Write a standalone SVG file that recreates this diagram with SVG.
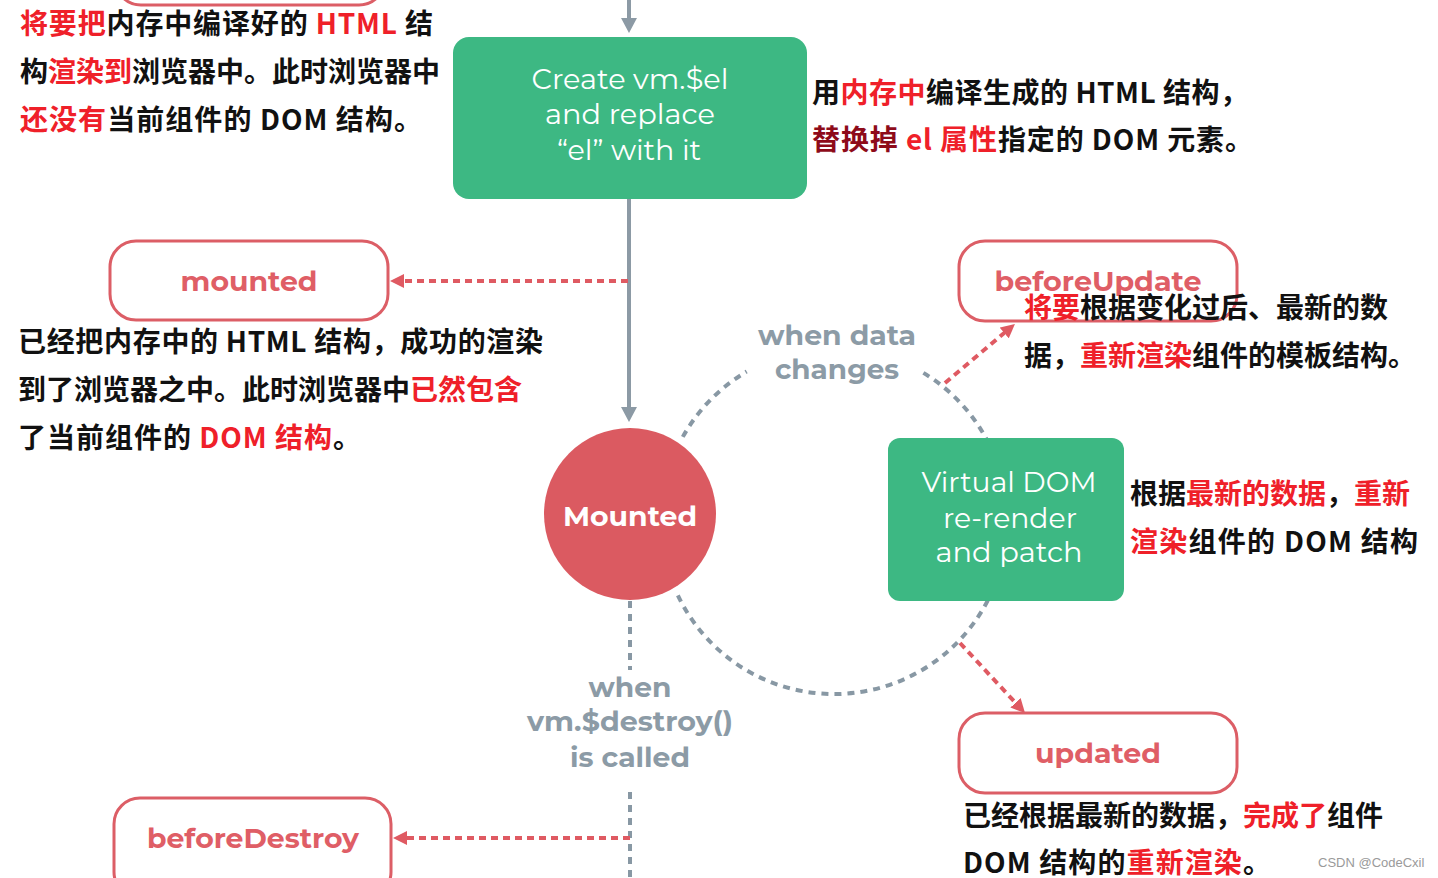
<svg xmlns="http://www.w3.org/2000/svg" width="1438" height="878" viewBox="0 0 1438 878">
<defs>
<style>
.hook{fill:#fff;stroke:#dc5e66;stroke-width:3}
.hookt{font-family:"Montserrat","Open Sans","Liberation Sans",sans-serif;font-weight:700;font-size:28px;fill:#df5e66;text-anchor:middle}
.green{fill:#3db883}
.greent{font-family:"Montserrat","Open Sans","Liberation Sans",sans-serif;font-weight:400;font-size:28px;fill:#fff;text-anchor:middle}
.gray{font-family:"Montserrat","Open Sans","Liberation Sans",sans-serif;font-weight:700;font-size:28px;fill:#8c9ba6;text-anchor:middle}
.solid{stroke:#8c9aa5;stroke-width:4;fill:none}
.gdash{stroke:#8898a4;stroke-width:4;fill:none;stroke-dasharray:7 6}
.rdash{stroke:#df5a62;stroke-width:4;fill:none;stroke-dasharray:7 5}
.cn{font-family:"Noto Sans CJK SC","Noto Sans",sans-serif;font-weight:700;font-size:28px;fill:#111}
.r{fill:#ef2029}
.dr{fill:#8e0b1a}
</style>
<marker id="ag" viewBox="0 0 16 16" refX="5" refY="8" markerWidth="16" markerHeight="16" markerUnits="userSpaceOnUse" orient="auto"><path d="M0,0 L15,8 L0,16 z" fill="#8c9aa5"/></marker>
<marker id="ar" viewBox="0 0 14 14" refX="4" refY="7" markerWidth="14" markerHeight="14" markerUnits="userSpaceOnUse" orient="auto"><path d="M0,0 L14,7 L0,14 z" fill="#df5a62"/></marker>
</defs>
<rect width="1438" height="878" fill="#fff"/>

<g id="connectors">
<line class="solid" x1="629" y1="-5" x2="629" y2="23" marker-end="url(#ag)"/>
<line class="solid" x1="629" y1="199" x2="629" y2="412" marker-end="url(#ag)"/>
<line class="rdash" x1="628" y1="281" x2="400" y2="281" marker-end="url(#ar)"/>
<path class="gdash" d="M682.8 436.9 A173 173 0 0 1 746.7 371.6"/>
<path class="gdash" d="M923.4 372.9 A173 173 0 1 1 676.1 591.6"/>
<line class="rdash" x1="945" y1="383" x2="1007.3" y2="330.4" marker-end="url(#ar)"/>
<line class="rdash" x1="960" y1="643" x2="1018.2" y2="705.7" marker-end="url(#ar)"/>
<line class="gdash" x1="630" y1="601" x2="630" y2="670"/>
<line class="gdash" x1="630" y1="792" x2="630" y2="880"/>
<line class="rdash" x1="630" y1="838" x2="403" y2="838" marker-end="url(#ar)"/>
</g>

<g id="node-top-hook">
<rect class="hook" x="115" y="-75" width="270" height="80" rx="26"/>
</g>

<g id="note-top-left">
<text class="cn" x="20" y="34" textLength="413" lengthAdjust="spacing"><tspan class="r">将要把</tspan>内存中编译好的 <tspan class="r">HTML</tspan> 结</text>
<text class="cn" x="20" y="82">构<tspan class="r">渲染到</tspan>浏览器中。此时浏览器中</text>
<text class="cn" x="20" y="130" textLength="402" lengthAdjust="spacing"><tspan class="r">还没有</tspan>当前组件的 DOM 结构。</text>
</g>

<g id="node-create">
<rect class="green" x="453" y="37" width="354" height="162" rx="16"/>
<text class="greent" x="630" y="89" textLength="197" lengthAdjust="spacingAndGlyphs">Create vm.$el</text>
<text class="greent" x="630" y="124" textLength="170" lengthAdjust="spacingAndGlyphs">and replace</text>
<text class="greent" x="629" y="160" textLength="144" lengthAdjust="spacingAndGlyphs">“el” with it</text>
</g>

<g id="note-create">
<text class="cn" x="812" y="103" textLength="436" lengthAdjust="spacing">用<tspan class="r">内存中</tspan>编译生成的 HTML 结构，</text>
<text class="cn" x="812" y="150" textLength="441" lengthAdjust="spacing"><tspan class="dr">替换掉</tspan> <tspan class="r">el 属性</tspan>指定的 DOM 元素。</text>
</g>

<g id="node-mounted-hook">
<rect class="hook" x="110" y="241" width="278" height="79" rx="26"/>
<text class="hookt" x="249" y="291" textLength="137" lengthAdjust="spacingAndGlyphs">mounted</text>
</g>

<g id="note-mounted">
<text class="cn" x="18" y="352" textLength="525" lengthAdjust="spacing">已经把内存中的 HTML 结构，成功的渲染</text>
<text class="cn" x="18" y="400">到了浏览器之中。此时浏览器中<tspan class="r">已然包含</tspan></text>
<text class="cn" x="18" y="448" textLength="343" lengthAdjust="spacing">了当前组件的 <tspan class="r">DOM 结构</tspan>。</text>
</g>

<g id="label-data-changes">
<text class="gray" x="837" y="345" textLength="158" lengthAdjust="spacingAndGlyphs">when data</text>
<text class="gray" x="837" y="379" textLength="124" lengthAdjust="spacingAndGlyphs">changes</text>
</g>

<g id="node-mounted">
<circle cx="630" cy="514" r="86" fill="#db5a61"/>
<text class="hookt" x="630" y="526" style="fill:#fff" textLength="134" lengthAdjust="spacingAndGlyphs">Mounted</text>
</g>

<g id="node-vdom">
<rect class="green" x="888" y="438" width="236" height="163" rx="12"/>
<text class="greent" x="1009" y="492" textLength="175" lengthAdjust="spacingAndGlyphs">Virtual DOM</text>
<text class="greent" x="1010" y="528" textLength="134" lengthAdjust="spacingAndGlyphs">re-render</text>
<text class="greent" x="1009" y="562" textLength="147" lengthAdjust="spacingAndGlyphs">and patch</text>
</g>

<g id="node-before-update">
<rect class="hook" x="959" y="241" width="278" height="80" rx="26"/>
<text class="hookt" x="1098" y="291" textLength="207" lengthAdjust="spacingAndGlyphs">beforeUpdate</text>
</g>

<g id="note-before-update">
<text class="cn" x="1024" y="318"><tspan class="r">将要</tspan>根据变化过后、最新的数</text>
<text class="cn" x="1024" y="366">据，<tspan class="r">重新渲染</tspan>组件的模板结构。</text>
</g>

<g id="note-vdom">
<text class="cn" x="1130" y="504">根据<tspan class="r">最新的数据</tspan>，<tspan class="r">重新</tspan></text>
<text class="cn" x="1130" y="552" textLength="288" lengthAdjust="spacing"><tspan class="r">渲染</tspan>组件的 DOM 结构</text>
</g>

<g id="node-updated">
<rect class="hook" x="959" y="713" width="278" height="80" rx="26"/>
<text class="hookt" x="1098" y="763" textLength="126" lengthAdjust="spacingAndGlyphs">updated</text>
</g>

<g id="note-updated">
<text class="cn" x="963" y="826">已经根据最新的数据，<tspan class="r">完成了</tspan>组件</text>
<text class="cn" x="963" y="873" textLength="308" lengthAdjust="spacing">DOM 结构的<tspan class="r">重新渲染</tspan>。</text>
</g>

<g id="label-destroy">
<text class="gray" x="630" y="697" textLength="83" lengthAdjust="spacingAndGlyphs">when</text>
<text class="gray" x="630" y="731" textLength="206" lengthAdjust="spacingAndGlyphs">vm.$destroy()</text>
<text class="gray" x="630" y="767" textLength="120" lengthAdjust="spacingAndGlyphs">is called</text>
</g>

<g id="node-before-destroy">
<rect class="hook" x="114" y="798" width="277" height="100" rx="26"/>
<text class="hookt" x="253" y="848" textLength="212" lengthAdjust="spacingAndGlyphs">beforeDestroy</text>
</g>

<text x="1318" y="867" font-family="Liberation Sans, Arial, sans-serif" font-size="13" fill="#9a9a9a">CSDN @CodeCxil</text>
</svg>
